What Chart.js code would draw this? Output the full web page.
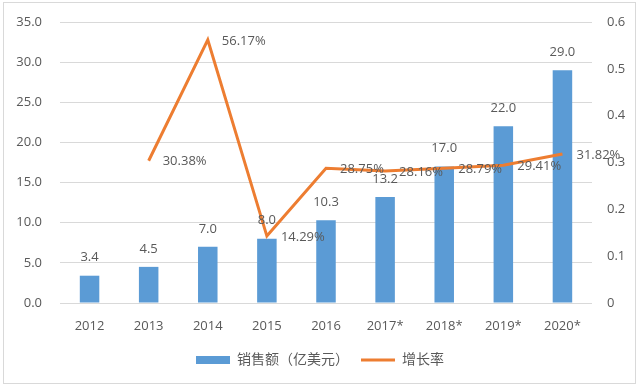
<!DOCTYPE html>
<html><head><meta charset="utf-8">
<script src="https://cdn.jsdelivr.net/npm/chart.js@4/dist/chart.umd.min.js"></script>
<style>html,body{margin:0;padding:0;background:#fff}canvas{display:block}</style>
</head><body>
<canvas id="c" width="640" height="387"></canvas>
<script>
const categories = ['2012','2013','2014','2015','2016','2017*','2018*','2019*','2020*'];
const sales = [3.4, 4.5, 7.0, 8.0, 10.3, 13.2, 17.0, 22.0, 29.0];
const growth = [null, 0.3038, 0.5617, 0.1429, 0.2875, 0.2816, 0.2879, 0.2941, 0.3182];
const leftTicks = [0, 5, 10, 15, 20, 25, 30, 35];
const rightTicks = [0, 0.1, 0.2, 0.3, 0.4, 0.5, 0.6];

const FONT = '"Open Sans", "Noto Sans CJK SC", sans-serif';
const GRAY = '#595959';

const labelsPlugin = {
  id: 'labels',
  beforeDraw(chart) {
    const ctx = chart.ctx;
    ctx.save();
    ctx.fillStyle = '#fff';
    ctx.fillRect(0, 0, chart.width, chart.height);
    ctx.strokeStyle = '#d9d9d9';
    ctx.lineWidth = 1;
    ctx.strokeRect(3.5, 2.5, 632, 381);
    ctx.restore();
  },
  afterDatasetsDraw(chart) {
    const ctx = chart.ctx;
    ctx.save();
    ctx.font = '13px ' + FONT;
    ctx.fillStyle = GRAY;
    const barMeta = chart.getDatasetMeta(0);
    ctx.textAlign = 'center';
    ctx.textBaseline = 'middle';
    barMeta.data.forEach((el, i) => {
      ctx.fillText(sales[i].toFixed(1), el.x, el.y - 18);
    });
    const lineMeta = chart.getDatasetMeta(1);
    ctx.textAlign = 'left';
    lineMeta.data.forEach((el, i) => {
      if (growth[i] == null) return;
      ctx.fillText((growth[i] * 100).toFixed(2) + '%', el.x + 14, el.y + 1);
    });
    ctx.restore();
  }
};

const fitY = w => s => { s.width = w; s.paddingTop = 0; s.paddingBottom = 0; };

new Chart(document.getElementById('c'), {
  data: {
    labels: categories,
    datasets: [
      { type: 'bar', label: '销售额（亿美元）', data: sales, backgroundColor: '#5B9BD5',
        yAxisID: 'y', categoryPercentage: 1, barPercentage: 0.33, order: 2, pointStyle: 'rect' },
      { type: 'line', label: '增长率', data: growth, borderColor: '#ED7D31', backgroundColor: '#ED7D31',
        borderWidth: 3, pointRadius: 0, yAxisID: 'y1', tension: 0, spanGaps: false, order: 1, pointStyle: 'line' }
    ]
  },
  options: {
    responsive: false,
    animation: false,
    layout: { padding: { top: 22, left: 0, right: 0, bottom: 10 } },
    plugins: {
      legend: {
        position: 'bottom',
        labels: { font: { size: 14, family: FONT }, color: GRAY, usePointStyle: true, pointStyleWidth: 34,
          boxHeight: 8, padding: 12, sort: (a, b) => a.datasetIndex - b.datasetIndex }
      },
      tooltip: { enabled: false }
    },
    scales: {
      x: {
        grid: { display: false },
        border: { display: false },
        ticks: { font: { size: 13, family: FONT }, color: GRAY, padding: 7, maxRotation: 0 },
        afterFit(s) { s.height = 38; }
      },
      y: {
        position: 'left', min: 0, max: 35,
        afterBuildTicks(s) { s.ticks = leftTicks.map(v => ({ value: v })); },
        ticks: { font: { size: 13, family: FONT }, color: GRAY, padding: 18, callback: v => v.toFixed(1) },
        grid: { color: '#d9d9d9', drawTicks: false, lineWidth: 1 },
        border: { display: false },
        afterFit: fitY(60)
      },
      y1: {
        position: 'right', min: 0, max: 0.6,
        afterBuildTicks(s) { s.ticks = rightTicks.map(v => ({ value: v })); },
        ticks: { font: { size: 13, family: FONT }, color: GRAY, padding: 15, callback: v => (v === 0 ? '0' : String(+v.toFixed(1))) },
        grid: { display: false, drawTicks: false },
        border: { display: false },
        afterFit: fitY(48)
      }
    }
  },
  plugins: [labelsPlugin]
});
</script>
</body></html>
